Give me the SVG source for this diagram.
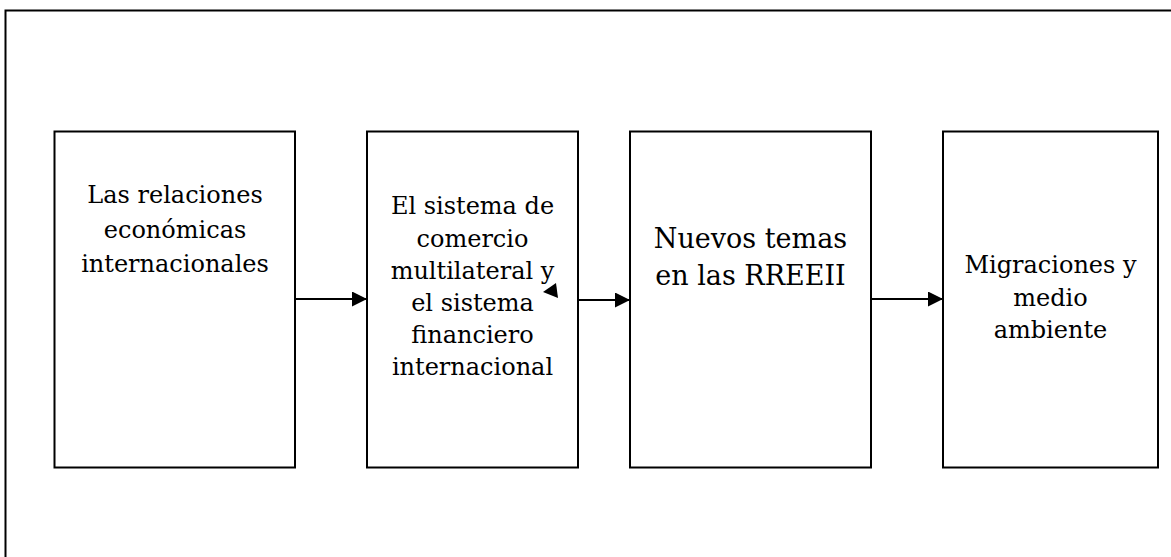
<svg xmlns="http://www.w3.org/2000/svg" width="1171" height="557" viewBox="0 0 1171 557">
<style>
.frame{fill:none;stroke:#000;stroke-width:2}
.box{fill:#fff;stroke:#000;stroke-width:2}
.t{font-family:"DejaVu Serif","Liberation Serif",serif;font-size:24px;fill:#000;text-anchor:middle}
.big{font-size:27px}
.con{stroke:#000;stroke-width:2;fill:none}
</style>
<defs>
<marker id="ah" markerWidth="15" markerHeight="15" refX="15" refY="7.5" orient="auto" markerUnits="userSpaceOnUse">
<path d="M0,0 L15,7.5 L0,15 Z" fill="#000"/>
</marker>
</defs>
<rect class="frame" x="5.5" y="10.5" width="1180" height="560"/>
<g id="node1">
<rect class="box" x="54.5" y="131.5" width="240.5" height="336"/>
<text class="t" x="175" y="203">Las relaciones</text>
<text class="t" x="175" y="237.5">económicas</text>
<text class="t" x="175" y="272">internacionales</text>
</g>
<g id="node2">
<rect class="box" x="367" y="131.5" width="211" height="336"/>
<text class="t" x="472.5" y="213.5">El sistema de</text>
<text class="t" x="472.5" y="246.5">comercio</text>
<text class="t" x="472.5" y="279">multilateral y</text>
<text class="t" x="472.5" y="311">el sistema</text>
<text class="t" x="472.5" y="343">financiero</text>
<text class="t" x="472.5" y="375">internacional</text>
</g>
<g id="node3">
<rect class="box" x="630" y="131.5" width="241" height="336"/>
<text class="t big" x="750.5" y="248">Nuevos temas</text>
<text class="t big" x="750.5" y="285">en las RREEII</text>
</g>
<g id="node4">
<rect class="box" x="943" y="131.5" width="215" height="336"/>
<text class="t" x="1050.5" y="273">Migraciones y</text>
<text class="t" x="1050.5" y="306">medio</text>
<text class="t" x="1050.5" y="338">ambiente</text>
</g>
<g id="connectors">
<line class="con" x1="295" y1="299" x2="367" y2="299" marker-end="url(#ah)"/>
<line class="con" x1="578" y1="300" x2="630" y2="300" marker-end="url(#ah)"/>
<line class="con" x1="871" y1="299" x2="943" y2="299" marker-end="url(#ah)"/>
<path d="M556,283 L543,292 L558,298 Z" fill="#000"/>
</g>
</svg>
